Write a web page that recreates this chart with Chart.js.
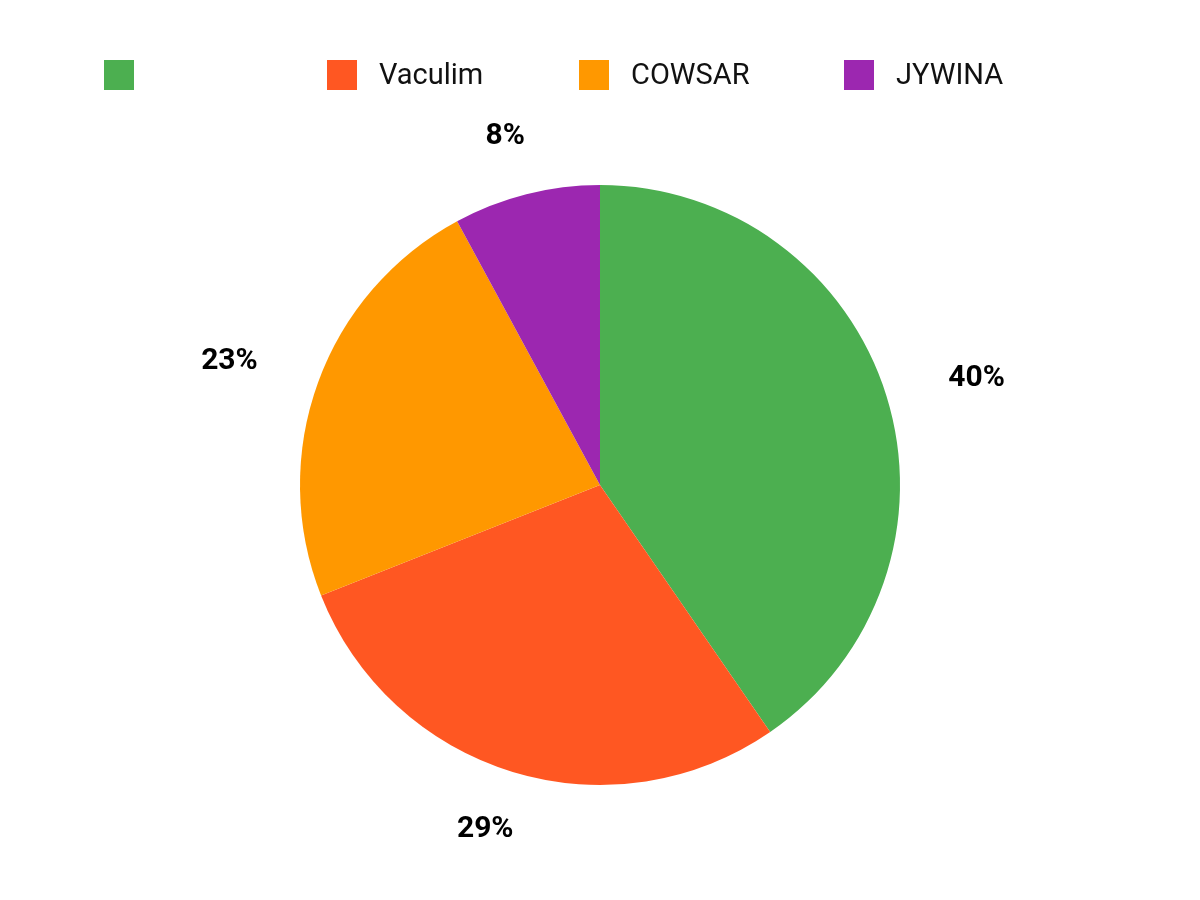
<!DOCTYPE html>
<html>
<head>
<meta charset="utf-8">
<script src="https://cdn.jsdelivr.net/npm/chart.js@4/dist/chart.umd.min.js"></script>
<style>
  html, body { margin: 0; padding: 0; background: #fff; }
  #wrap { width: 1200px; height: 900px; }
</style>
</head>
<body>
<div id="wrap"><canvas id="myChart" width="1200" height="900"></canvas></div>
<script>
// chart data
const labels = ['', 'Vaculim', 'COWSAR', 'JYWINA'];
const values = [40.4, 28.6, 23.1, 7.9];
const colors = ['#4CAF50', '#FF5722', '#FF9800', '#9C27B0'];

// legend columns (left edge of each swatch)
const legendX = [104, 327, 579, 844];

// legend drawn by hand so the columns line up with the picture
const topLegend = {
    id: 'topLegend',
    afterDraw(chart) {
        const ctx = chart.ctx;
        const ds = chart.data.datasets[0];
        ctx.save();
        ctx.font = '29px Roboto';
        ctx.textBaseline = 'middle';
        ctx.textAlign = 'left';
        chart.data.labels.forEach((lab, i) => {
            const x = legendX[i];
            ctx.fillStyle = ds.backgroundColor[i];
            ctx.fillRect(x, 60, 30, 30);
            ctx.fillStyle = '#111';
            ctx.fillText(lab, x + 52, 77);
        });
        ctx.restore();
    }
};

// percentage labels outside the slices
const outerLabels = {
    id: 'outerLabels',
    afterDatasetsDraw(chart) {
        const ctx = chart.ctx;
        const meta = chart.getDatasetMeta(0);
        const data = chart.data.datasets[0].data;
        const total = data.reduce((a, b) => a + b, 0);
        ctx.save();
        ctx.font = 'bold 30px Roboto';
        ctx.fillStyle = '#000';
        ctx.textAlign = 'center';
        ctx.textBaseline = 'middle';
        meta.data.forEach((arc, i) => {
            const p = arc.getProps(['x', 'y', 'startAngle', 'endAngle', 'outerRadius'], true);
            const mid = (p.startAngle + p.endAngle) / 2;
            const txt = Math.round(data[i] / total * 100) + '%';
            const w = ctx.measureText(txt).width;
            const d = p.outerRadius * 1.2;
            // push sideways by half the text width so it clears the rim
            const x = p.x + Math.cos(mid) * (d + w / 2 + 6);
            const y = p.y + Math.sin(mid) * d;
            ctx.fillText(txt, x, y);
        });
        ctx.restore();
    }
};

const ctx = document.getElementById('myChart').getContext('2d');
const chart = new Chart(ctx, {
    type: 'pie',
    data: {
        labels: labels,
        datasets: [{
            data: values,
            backgroundColor: colors,
            borderWidth: 0
        }]
    },
    options: {
        responsive: false,
        animation: false,
        layout: { padding: { top: 185, bottom: 115, left: 300, right: 300 } },
        plugins: {
            legend: { display: false },
            tooltip: { enabled: false }
        }
    },
    plugins: [topLegend, outerLabels]
});
</script>
</body>
</html>
